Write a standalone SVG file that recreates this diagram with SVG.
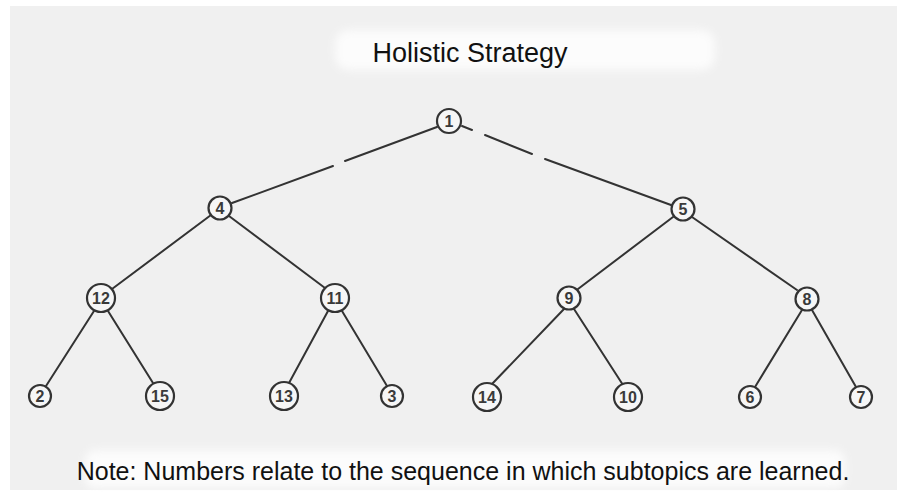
<svg xmlns="http://www.w3.org/2000/svg" width="901" height="495" viewBox="0 0 901 495">
<defs>
<filter id="soft" x="-10%" y="-50%" width="120%" height="200%"><feGaussianBlur stdDeviation="4"/></filter>
</defs>
<style>
.n circle{fill:#f6f6f6;stroke:#333;stroke-width:2.2}
.n text{font-family:"Liberation Sans",Arial,sans-serif;font-size:16px;font-weight:bold;fill:#3a3a3a;text-anchor:middle;dominant-baseline:central}
#edges line,#edges path{stroke:#333;stroke-width:2;fill:none;stroke-linecap:round}
.t{font-family:"Liberation Sans",Arial,sans-serif;fill:#111;text-anchor:middle}
</style>
<rect x="0" y="0" width="901" height="495" fill="#ffffff"/>
<rect x="10" y="6" width="887" height="484" fill="#f0f0f0"/>
<rect x="335" y="30" width="380" height="40" rx="14" fill="#fcfcfc" filter="url(#soft)"/>
<rect x="85" y="450" width="760" height="38" rx="10" fill="#fcfcfc" filter="url(#soft)"/>
<text class="t" x="470" y="62" font-size="27">Holistic Strategy</text>
<text class="t" x="463" y="480" font-size="25">Note: Numbers relate to the sequence in which subtopics are learned.</text>
<g id="edges">
<path d="M437 127 L345 161 M333 166 L232 203"/>
<path d="M462 126 L472 130 M485 135 L532 154 M545 159 L671 205"/>
<line x1="211" y1="215" x2="112" y2="289"/>
<line x1="229" y1="216" x2="325" y2="288"/>
<line x1="673" y1="217" x2="578" y2="289"/>
<line x1="692" y1="217" x2="797" y2="290"/>
<line x1="94" y1="311" x2="46" y2="386"/>
<line x1="108" y1="311" x2="153" y2="383"/>
<line x1="328" y1="311" x2="289" y2="383"/>
<line x1="342" y1="311" x2="387" y2="386"/>
<line x1="564" y1="309" x2="492" y2="384"/>
<line x1="574" y1="309" x2="623" y2="385"/>
<line x1="802" y1="310" x2="755" y2="387"/>
<line x1="812" y1="310" x2="856" y2="387"/>
</g>
<g id="n1" class="n"><circle cx="449" cy="121" r="12"/><text x="449" y="121">1</text></g>
<g id="n4" class="n"><circle cx="220" cy="208" r="11.5"/><text x="220" y="208">4</text></g>
<g id="n5" class="n"><circle cx="683" cy="209" r="11.5"/><text x="683" y="209">5</text></g>
<g id="n12" class="n"><circle cx="101" cy="298" r="14"/><text x="101" y="298">12</text></g>
<g id="n11" class="n"><circle cx="335" cy="298" r="14"/><text x="335" y="298">11</text></g>
<g id="n9" class="n"><circle cx="569" cy="298" r="11.5"/><text x="569" y="298">9</text></g>
<g id="n8" class="n"><circle cx="807" cy="299" r="11.5"/><text x="807" y="299">8</text></g>
<g id="n2" class="n"><circle cx="40" cy="396" r="11"/><text x="40" y="396">2</text></g>
<g id="n15" class="n"><circle cx="160" cy="396" r="14"/><text x="160" y="396">15</text></g>
<g id="n13" class="n"><circle cx="284" cy="396" r="14"/><text x="284" y="396">13</text></g>
<g id="n3" class="n"><circle cx="392" cy="396" r="11"/><text x="392" y="396">3</text></g>
<g id="n14" class="n"><circle cx="487" cy="397" r="14"/><text x="487" y="397">14</text></g>
<g id="n10" class="n"><circle cx="628" cy="397" r="14"/><text x="628" y="397">10</text></g>
<g id="n6" class="n"><circle cx="750" cy="397" r="11"/><text x="750" y="397">6</text></g>
<g id="n7" class="n"><circle cx="861" cy="397" r="11"/><text x="861" y="397">7</text></g>
</svg>
